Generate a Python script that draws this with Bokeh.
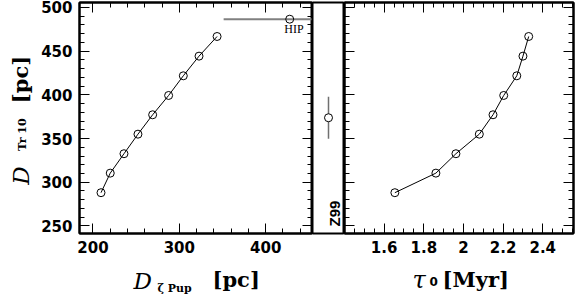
import numpy as np
from bokeh.plotting import figure
from bokeh.models import (Range1d, LinearAxis, SingleIntervalTicker, FixedTicker, Label)
from bokeh.core.properties import value
from bokeh.layouts import row, column
from bokeh.embed import file_html
from bokeh.resources import INLINE

# ---------------- data ----------------
d_zeta_pup = [209.3, 220.0, 235.9, 252.1, 269.1, 287.6, 304.6, 322.8, 343.7]   # pc
d_tr10 = [288.0, 310.4, 332.6, 355.0, 377.2, 399.3, 421.8, 444.3, 466.8]       # pc
tau0 = [1.654, 1.861, 1.962, 2.080, 2.149, 2.203, 2.269, 2.300, 2.329]         # Myr

hip_d = [427.8]
hip_dtr = [486.6]
hip_err = [76.5]

z99_x = [0.5]
z99_d = [373.8]
z99_err = [24.0]

x3_ticks = [1.6, 1.8, 2.0, 2.2, 2.4]
x3_tick_labels = ["1.6", "1.8", "2", "2.2", "2.4"]

# ---------------- geometry ----------------
TOTAL_H = 294
TOP_H = 256
TOP = 2
BOTTOM = 23
YLAB_W = 36
Y_RANGE = (241.3, 505.7)
X1_RANGE = (184.4, 454.2)
X3_RANGE = (1.40, 2.555)

TICK_FONT = "DejaVu Sans"
SERIF = "DejaVu Serif"


def style_axis(ax, labels=True):
    ax.major_tick_in = 10
    ax.major_tick_out = 0
    ax.minor_tick_in = 5
    ax.minor_tick_out = 0
    ax.major_tick_line_color = "black"
    ax.minor_tick_line_color = "black"
    ax.major_tick_line_width = 1
    ax.minor_tick_line_width = 1
    ax.axis_line_color = "black"
    ax.axis_line_width = 2
    if labels:
        ax.major_label_text_font = TICK_FONT
        ax.major_label_text_font_style = "bold"
        ax.major_label_text_font_size = "15px"
        ax.major_label_text_color = "black"
        ax.major_label_standoff = 7
    else:
        ax.major_label_text_font_size = "0px"
        ax.major_label_text_color = None
        ax.major_label_standoff = 0


def base_fig(width, x_range, left, right, axes=True):
    kw = {}
    if not axes:
        kw = dict(x_axis_type=None, y_axis_type=None)
    p = figure(width=width, height=TOP_H, x_range=Range1d(*x_range), y_range=Range1d(*Y_RANGE),
               output_backend="svg", toolbar_location=None,
               min_border_left=left, min_border_right=right,
               min_border_top=TOP, min_border_bottom=BOTTOM, **kw)
    p.grid.visible = False
    p.outline_line_color = "black"
    p.outline_line_width = 2
    p.background_fill_color = "white"
    p.border_fill_color = "white"
    return p


def strip_fig(width, height):
    # frame covers the whole canvas: data units == pixels (y upward)
    p = figure(width=width, height=height, x_range=Range1d(0, width), y_range=Range1d(0, height),
               output_backend="svg", toolbar_location=None,
               x_axis_type=None, y_axis_type=None,
               min_border_left=0, min_border_right=0, min_border_top=0, min_border_bottom=0)
    p.grid.visible = False
    p.outline_line_color = None
    p.background_fill_color = "white"
    p.border_fill_color = "white"
    return p


def add_label(p, sx, sy, text, font, size, style="normal", align="left",
              baseline="alphabetic", angle=0.0, units="screen"):
    p.add_layout(Label(x=sx, y=sy, x_units=units, y_units=units, text=text,
                       text_font=font, text_font_size=f"{size}px", text_font_style=style,
                       text_align=align, text_baseline=baseline, angle=angle,
                       text_color="black"))


def add_glyph_text(p, x, y, text, font, size, style="normal", align="left",
                   baseline="alphabetic", angle=0.0):
    p.text(x=[x], y=[y], text=[text], text_font=value(font), text_font_size=f"{size}px",
           text_font_style=style, text_align=align, text_baseline=baseline,
           angle=angle, text_color="black")


y_ticker = SingleIntervalTicker(interval=50, num_minor_ticks=5)

# ---------------- left panel ----------------
p1 = base_fig(276, X1_RANGE, 43, 0)
x1_ticker = SingleIntervalTicker(interval=100, num_minor_ticks=5)
p1.xaxis.ticker = x1_ticker
p1.yaxis.ticker = y_ticker
style_axis(p1.xaxis[0])
style_axis(p1.yaxis[0])
top1 = LinearAxis(ticker=x1_ticker)
right1 = LinearAxis(ticker=y_ticker)
style_axis(top1, labels=False)
style_axis(right1, labels=False)
p1.add_layout(top1, "above")
p1.add_layout(right1, "right")

p1.line(d_zeta_pup, d_tr10, line_color="black", line_width=1)
p1.scatter(d_zeta_pup, d_tr10, marker="circle", size=8, fill_color=None,
           line_color="black", line_width=1)

hip_lo = [h - e for h, e in zip(hip_d, hip_err)]
hip_hi = [h + e for h, e in zip(hip_d, hip_err)]
p1.segment(x0=hip_lo, y0=hip_dtr, x1=hip_hi, y1=hip_dtr, line_color="#808080", line_width=2)
p1.scatter(hip_d, hip_dtr, marker="circle", size=8, fill_color=None,
           line_color="black", line_width=1)
add_label(p1, 444, 475, "HIP", "Liberation Serif", 12, align="right", units="data")

# ---------------- middle panel ----------------
p2 = base_fig(32, (0, 1), 0, 0, axes=False)
z_lo = [v - e for v, e in zip(z99_d, z99_err)]
z_hi = [v + e for v, e in zip(z99_d, z99_err)]
p2.segment(x0=z99_x, y0=z_lo, x1=z99_x, y1=z_hi, line_color="#707070", line_width=1.5)
p2.scatter(z99_x, z99_d, marker="circle", size=8, fill_color="white",
           line_color="black", line_width=1)
add_label(p2, 22, 20, "Z99", "Liberation Sans", 15, style="bold", align="center", angle=np.pi / 2)

# ---------------- right panel ----------------
p3 = base_fig(234, X3_RANGE, 0, 5)
x3_ticker = FixedTicker(ticks=x3_ticks, minor_ticks=list(np.round(np.arange(1.40, 2.56, 0.05), 2)))
p3.xaxis.ticker = x3_ticker
p3.xaxis.major_label_overrides = {t: s for t, s in zip(x3_ticks, x3_tick_labels)}
style_axis(p3.xaxis[0])
p3.yaxis.ticker = y_ticker
style_axis(p3.yaxis[0], labels=False)
top3 = LinearAxis(ticker=x3_ticker)
right3 = LinearAxis(ticker=y_ticker)
style_axis(top3, labels=False)
style_axis(right3, labels=False)
p3.add_layout(top3, "above")
p3.add_layout(right3, "right")

p3.line(tau0, d_tr10, line_color="black", line_width=1)
p3.scatter(tau0, d_tr10, marker="circle", size=8, fill_color=None,
           line_color="black", line_width=1)

# ---------------- axis-title strips ----------------
pyl = strip_fig(YLAB_W, TOTAL_H)
add_glyph_text(pyl, 20, 119, "D", SERIF, 23, style="italic", align="center", angle=np.pi / 2)
add_glyph_text(pyl, 22, 160, "Tr 10", SERIF, 11, style="bold", align="center", angle=np.pi / 2)
add_glyph_text(pyl, 20, 215, "[pc]", SERIF, 21, style="bold", align="center", angle=np.pi / 2)

pxl = strip_fig(578 - YLAB_W, TOTAL_H - TOP_H)
add_glyph_text(pxl, 97, 14, "D", SERIF, 23, style="italic")
add_glyph_text(pxl, 121, 6, "ζ Pup", SERIF, 11, style="bold")
add_glyph_text(pxl, 176, 15, "[pc]", SERIF, 21, style="bold")
add_glyph_text(pxl, 376, 15, "τ", SERIF, 24, style="italic")
add_glyph_text(pxl, 393, 13, "0", TICK_FONT, 12, style="bold")
add_glyph_text(pxl, 406, 15, "[Myr]", SERIF, 21, style="bold")

layout = row(pyl, column(row(p1, p2, p3), pxl))
open("out.html", "w").write(file_html(layout, INLINE))
